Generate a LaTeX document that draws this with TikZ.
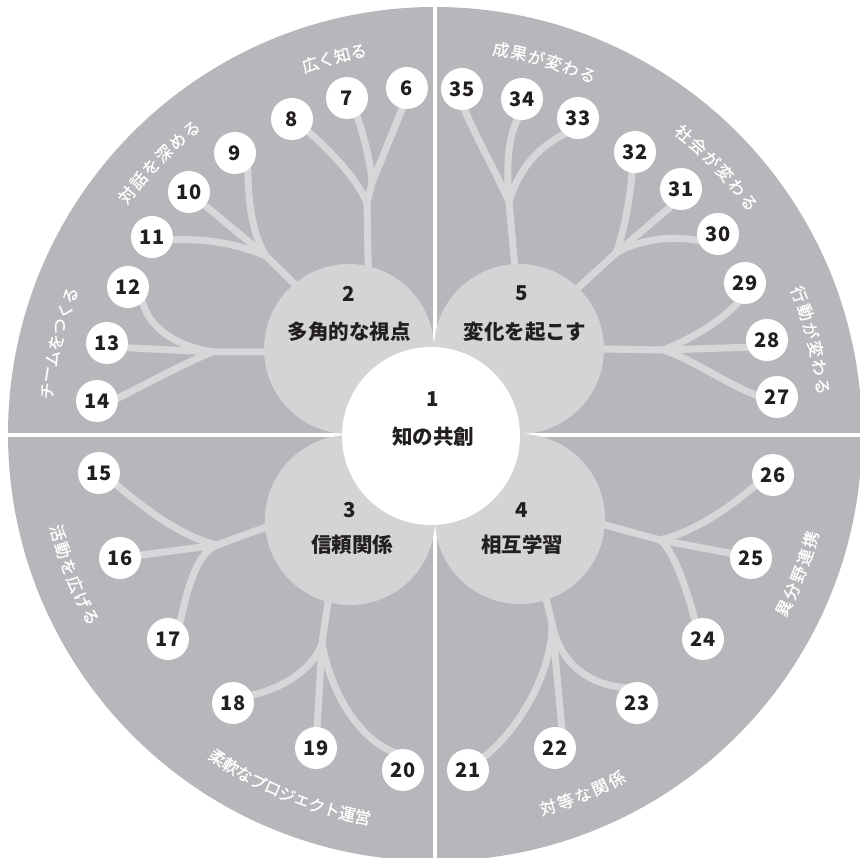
\documentclass[tikz,border=0pt]{standalone}
\usepackage{fontspec}
\setmainfont{Noto Sans CJK JP}
\newfontfamily\jpmed{Noto Sans CJK JP}[FakeBold=0.8]
\definecolor{diskc}{RGB}{182,183,186}
\definecolor{lightc}{RGB}{211,212,214}
\definecolor{brc}{RGB}{214,215,217}
\definecolor{txt}{RGB}{35,31,32}
\pgfdeclarelayer{disk}
\pgfdeclarelayer{branch}
\pgfsetlayers{disk,branch,main}
\newcommand\arclbl[6]{% #1 id, #2 mid angle, #3 dir, #4 step px, #5 n, #6 chars
  \foreach \ch [count=\i] in {#6}{%
    \pgfmathsetmacro\ang{#2+(#3)*(\i-(#5+1)/2)*(#4)/390*57.29578}%
    \node[arctext, rotate=\ang+(#3)*90] (#1-\i) at ({435+390*cos(\ang)},{434-390*sin(\ang)}) {\ch};
  }}
\begin{document}
\begin{tikzpicture}[x=1pt,y=-1pt,
  br/.style={draw=brc, line width=7pt, line join=round, shorten >=-4pt},
  hubc/.style={circle, fill=lightc, minimum size=170pt, inner sep=0pt},
  leaf/.style={circle, fill=white, minimum size=42pt, inner sep=0pt, font=\bfseries\fontsize{20}{20}\selectfont, text=txt},
  ctext/.style={font=\bfseries\fontsize{20.5}{21}\selectfont, text=txt, inner sep=0pt},
  arctext/.style={font=\jpmed\fontsize{16.5}{17}\selectfont, text=white, inner sep=0pt}]
\useasboundingbox (0,0) rectangle (860,858);
\begin{pgfonlayer}{disk}
  \fill[diskc] (435,434) circle[radius=427pt];
  \draw[white, line width=4.5pt] (435,0) -- (435,858);
  \draw[white, line width=4.2pt] (0,435) -- (860,435);
\end{pgfonlayer}

% hub circles
\node[hubc] (c2) at (349,349) {};
\node[hubc] (c5) at (519,349) {};
\node[hubc] (c3) at (350,520) {};
\node[hubc] (c4) at (520,519) {};
\node[circle, fill=white, minimum size=178pt, inner sep=0pt] (c1) at (431,436) {};

% centre texts
\node[ctext] (c1num) at (433,399) {1};
\node[ctext] (c1lbl) at (433,437) {知の共創};
\node[ctext] (c2num) at (349,294) {2};
\node[ctext] (c2lbl) at (349,332) {多角的な視点};
\node[ctext] (c5num) at (522,293) {5};
\node[ctext] (c5lbl) at (525,332) {変化を起こす};
\node[ctext] (c3num) at (350,510) {3};
\node[ctext] (c3lbl) at (352,545) {信頼関係};
\node[ctext] (c4num) at (522,510) {4};
\node[ctext] (c4lbl) at (522,545) {相互学習};

% leaves
\node[leaf] (n6) at (407,88) {6};
\node[leaf] (n7) at (347,98) {7};
\node[leaf] (n8) at (292,119) {8};
\node[leaf] (n9) at (235,153) {9};
\node[leaf] (n10) at (189,192) {10};
\node[leaf] (n11) at (152,237) {11};
\node[leaf] (n12) at (128,287) {12};
\node[leaf] (n13) at (107,343) {13};
\node[leaf] (n14) at (97,401) {14};
\node[leaf] (n15) at (99,473) {15};
\node[leaf] (n16) at (120,558) {16};
\node[leaf] (n17) at (168,639) {17};
\node[leaf] (n18) at (233,703) {18};
\node[leaf] (n19) at (316,748) {19};
\node[leaf] (n20) at (403,770) {20};
\node[leaf] (n21) at (468,770) {21};
\node[leaf] (n22) at (555,748) {22};
\node[leaf] (n23) at (637,703) {23};
\node[leaf] (n24) at (703,639) {24};
\node[leaf] (n25) at (751,558) {25};
\node[leaf] (n26) at (773,475) {26};
\node[leaf] (n27) at (777,397) {27};
\node[leaf] (n28) at (767,340) {28};
\node[leaf] (n29) at (745,283) {29};
\node[leaf] (n30) at (718,234) {30};
\node[leaf] (n31) at (681,189) {31};
\node[leaf] (n32) at (635,152) {32};
\node[leaf] (n33) at (578,118) {33};
\node[leaf] (n34) at (522,99) {34};
\node[leaf] (n35) at (462,89) {35};

% branch points
\coordinate (h2a) at (367,203);
\coordinate (h2a2) at (372,183);
\coordinate (h2b) at (266,256);
\coordinate (h2c) at (213,352);
\coordinate (h5a) at (509,202);
\coordinate (h5b) at (616,253);
\coordinate (h5c) at (663,350);
\coordinate (h3a) at (217,545);
\coordinate (h3b) at (322,643);
\coordinate (h4a) at (660,540);
\coordinate (h4b) at (552,623);

\begin{pgfonlayer}{branch}
  % quadrant 2
  \draw[br] (h2a2) -- (h2a) -- (c2.77);
  \draw[br] (h2a) .. controls (358,180) and (330,150) .. (n8.322);
  \draw[br] (h2a2) .. controls (371,165) and (364,135) .. (n7.299);
  \draw[br] (h2a2) -- (n6.257);
  \draw[br] (h2b) -- (c2.130);
  \draw[br] (h2b) .. controls (252,235) and (248,200) .. (n9.307);
  \draw[br] (h2b) -- (n10.320);
  \draw[br] (h2b) .. controls (240,245) and (210,238) .. (n11.353);
  \draw[br] (h2c) -- (c2.182);
  \draw[br] (h2c) .. controls (180,347) and (148,330) .. (n12.313);
  \draw[br] (h2c) -- (n13.347);
  \draw[br] (h2c) .. controls (195,358) and (150,382) .. (n14.8);
  % quadrant 5
  \draw[br] (h5a) -- (c5.93);
  \draw[br] (h5a) .. controls (500,180) and (475,135) .. (n35.277);
  \draw[br] (h5a) .. controls (506,165) and (508,135) .. (n34.257);
  \draw[br] (h5a) .. controls (518,172) and (535,148) .. (n33.229);
  \draw[br] (h5b) -- (c5.46);
  \draw[br] (h5b) .. controls (624,232) and (630,200) .. (n32.262);
  \draw[br] (h5b) -- (n31.239);
  \draw[br] (h5b) .. controls (635,242) and (665,234) .. (n30.197);
  \draw[br] (h5c) -- (c5.0);
  \draw[br] (h5c) .. controls (685,342) and (722,322) .. (n29.250);
  \draw[br] (h5c) -- (n28.200);
  \draw[br] (h5c) .. controls (690,358) and (728,385) .. (n27.175);
  % quadrant 3
  \draw[br] (h3a) -- (c3.185);
  \draw[br] (h3a) .. controls (185,538) and (148,512) .. (n15.326);
  \draw[br] (h3a) -- (n16.8);
  \draw[br] (h3a) .. controls (200,552) and (190,575) .. (n17.55);
  \draw[br] (h3b) -- (c3.255);
  \draw[br] (h3b) .. controls (314,668) and (285,688) .. (n18.22);
  \draw[br] (h3b) -- (n19.87);
  \draw[br] (h3b) .. controls (330,690) and (358,740) .. (n20.120);
  % quadrant 4
  \draw[br] (h4a) -- (c4.356);
  \draw[br] (h4a) .. controls (690,533) and (725,512) .. (n26.211);
  \draw[br] (h4a) -- (n25.167);
  \draw[br] (h4a) .. controls (672,548) and (687,588) .. (n24.113);
  \draw[br] (h4b) -- (c4.288);
  \draw[br] (h4b) .. controls (553,670) and (520,730) .. (n21.39);
  \draw[br] (h4b) -- (n22.71);
  \draw[br] (h4b) .. controls (560,665) and (590,685) .. (n23.133);
\end{pgfonlayer}

% arc labels
\arclbl{la}{105}{-1}{16.7}{4}{広,く,知,る}
\arclbl{lb}{135.4}{-1}{18.5}{6}{対,話,を,深,め,る}
\arclbl{lc}{166.4}{-1}{16.4}{7}{チ,ー,ム,を,つ,く,る}
\arclbl{ld}{73.6}{-1}{18.1}{6}{成,果,が,変,わ,る}
\arclbl{le}{43.4}{-1}{19.0}{6}{社,会,が,変,わ,る}
\arclbl{lf}{14.0}{-1}{19.0}{6}{行,動,が,変,わ,る}
\arclbl{lg}{201.3}{1}{18.0}{6}{活,動,を,広,げ,る}
\arclbl{lh}{247.7}{1}{15.8}{11}{柔,軟,な,プ,ロ,ジ,ェ,ク,ト,運,営}
\arclbl{li}{292.3}{1}{18.6}{5}{対,等,な,関,係}
\arclbl{lj}{338.9}{1}{18.4}{5}{異,分,野,連,携}
\end{tikzpicture}
\end{document}
